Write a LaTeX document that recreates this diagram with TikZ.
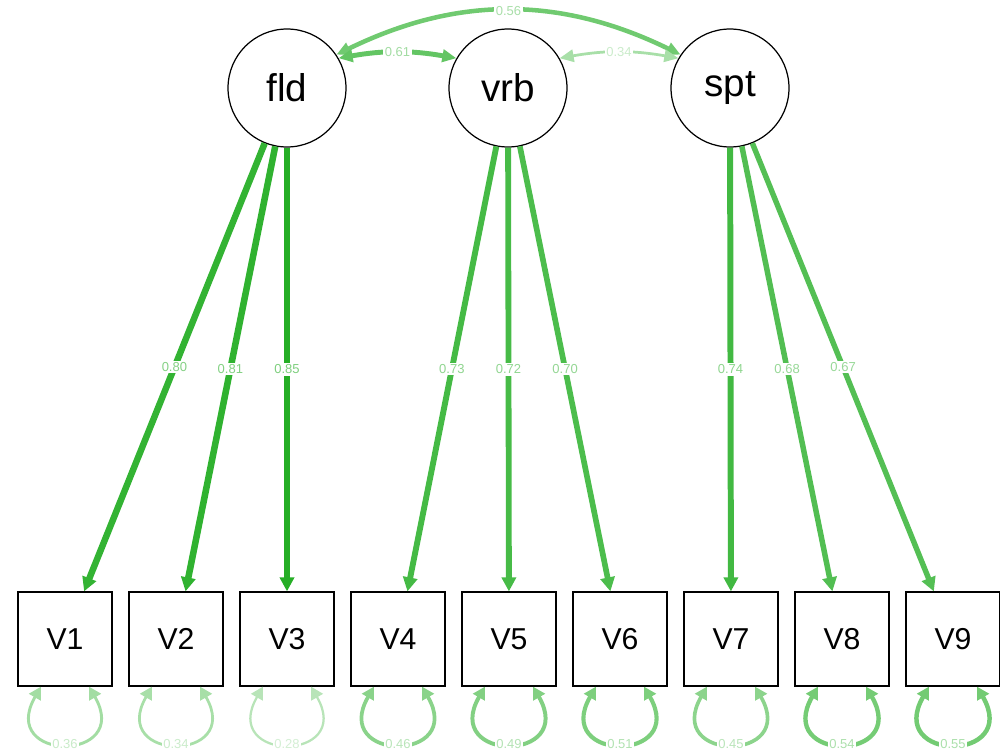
\documentclass[tikz,border=0pt]{standalone}
\usepackage{fontspec}
\setmainfont{Liberation Sans}
\usetikzlibrary{arrows.meta}
\definecolor{semgreen}{RGB}{0,160,0}
\tikzset{
  latent/.style={
    circle,
    draw=black,
    line width=0.7pt,
    minimum size=2.36cm,
    inner sep=0pt,
    font=\fontsize{22}{26}\selectfont
  },
%
  manifest/.style={
    rectangle,
    draw=black,
    line width=0.7pt,
    minimum width=1.88cm,
    minimum height=1.88cm,
    inner sep=0pt,
    font=\fontsize{17.2}{20}\selectfont
  },
%
  loading/.style={
    draw=semgreen!#1!white,
    line width={#1*0.046pt},
    -{Triangle[length=8pt,width=8pt]}
  },
  loading/.default={80},
%
  covar/.style={
    draw=semgreen!#1!white,
    line width={#1*0.046pt},
    {Triangle[length=8pt,width=7pt]}-{Triangle[length=8pt,width=7pt]}
  },
  covar/.default={50},
%
  resid/.style={
    draw=semgreen!#1!white,
    line width={#1*0.046pt},
    {Triangle[length=7pt,width=7.5pt]}-{Triangle[length=7pt,width=7.5pt]}
  },
  resid/.default={40},
%
  estim/.style={
    fill=white,
    inner sep=0.8pt,
    text=semgreen!#1!white!60!white,
    font=\fontsize{7.4}{8}\selectfont
  },
  estim/.default={60},
}

\begin{document}
\begin{tikzpicture}[x=0.02cm, y=-0.02cm]
\useasboundingbox (0,0) rectangle (1000,750);

\node[latent] at (287,88) (fld) {fld};
\node[latent] at (508,88) (vrb) {vrb};
\node[latent] at (730,88) (spt) {spt};
\node[manifest] at (65,639) (V1) {V1};
\node[manifest] at (176,639) (V2) {V2};
\node[manifest] at (287,639) (V3) {V3};
\node[manifest] at (398,639) (V4) {V4};
\node[manifest] at (509,639) (V5) {V5};
\node[manifest] at (620,639) (V6) {V6};
\node[manifest] at (731,639) (V7) {V7};
\node[manifest] at (842,639) (V8) {V8};
\node[manifest] at (953,639) (V9) {V9};

\draw[loading=80] (fld) -- node[estim=80] {0.80} (V1);
\draw[loading=81] (fld) -- node[estim=81] {0.81} (V2);
\draw[loading=85] (fld) -- node[estim=85] {0.85} (V3);
\draw[loading=73] (vrb) -- node[estim=73] {0.73} (V4);
\draw[loading=72] (vrb) -- node[estim=72] {0.72} (V5);
\draw[loading=70] (vrb) -- node[estim=70] {0.70} (V6);
\draw[loading=74] (spt) -- node[estim=74] {0.74} (V7);
\draw[loading=68] (spt) -- node[estim=68] {0.68} (V8);
\draw[loading=67] (spt) -- node[estim=67] {0.67} (V9);

\draw[covar=56] (fld.34) to[bend left=26] node[estim=56] {0.56} (spt.146);
\draw[covar=61] (fld.30) to[bend left=10] node[estim=61] {0.61} (vrb.150);
\draw[covar=34] (vrb.30) to[bend left=10] node[estim=34] {0.34} (spt.150);

\draw[resid=36] ([xshift=-0.48cm]V1.south) to[out=-120,in=-60,looseness=4.7] node[estim=36] {0.36} ([xshift=0.48cm]V1.south);
\draw[resid=34] ([xshift=-0.48cm]V2.south) to[out=-120,in=-60,looseness=4.7] node[estim=34] {0.34} ([xshift=0.48cm]V2.south);
\draw[resid=28] ([xshift=-0.48cm]V3.south) to[out=-120,in=-60,looseness=4.7] node[estim=28] {0.28} ([xshift=0.48cm]V3.south);
\draw[resid=46] ([xshift=-0.48cm]V4.south) to[out=-120,in=-60,looseness=4.7] node[estim=46] {0.46} ([xshift=0.48cm]V4.south);
\draw[resid=49] ([xshift=-0.48cm]V5.south) to[out=-120,in=-60,looseness=4.7] node[estim=49] {0.49} ([xshift=0.48cm]V5.south);
\draw[resid=51] ([xshift=-0.48cm]V6.south) to[out=-120,in=-60,looseness=4.7] node[estim=51] {0.51} ([xshift=0.48cm]V6.south);
\draw[resid=45] ([xshift=-0.48cm]V7.south) to[out=-120,in=-60,looseness=4.7] node[estim=45] {0.45} ([xshift=0.48cm]V7.south);
\draw[resid=54] ([xshift=-0.48cm]V8.south) to[out=-120,in=-60,looseness=4.7] node[estim=54] {0.54} ([xshift=0.48cm]V8.south);
\draw[resid=55] ([xshift=-0.48cm]V9.south) to[out=-120,in=-60,looseness=4.7] node[estim=55] {0.55} ([xshift=0.48cm]V9.south);

\end{tikzpicture}
\end{document}
